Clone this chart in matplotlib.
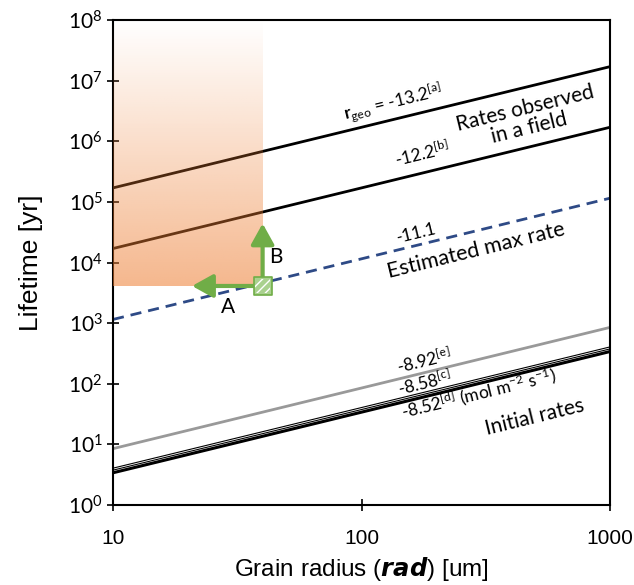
import numpy as np
import matplotlib
matplotlib.use("Agg")
import matplotlib.pyplot as plt

plt.rcParams['font.family'] = ['Lato', 'DejaVu Sans']
plt.rcParams['mathtext.fontset'] = 'custom'
plt.rcParams['mathtext.rm'] = 'Lato'
plt.rcParams['mathtext.it'] = 'Lato:italic'
plt.rcParams['mathtext.bf'] = 'Lato:bold'

# grain radius end points [um] and lifetime [yr] read at those radii
radius = [10, 1000]
life_a = [1.7e5, 1.7e7]    # -13.2
life_b = [1.7e4, 1.7e6]    # -12.2
life_max = [1.15e3, 1.15e5]  # -11.1 (estimated max rate)
life_e = [8.5, 850]        # -8.92
life_c = [3.9, 390]        # -8.58
life_d = [3.4, 340]        # -8.52

# shaded window and arrows
box_x = [10, 40]
box_y = [4.1e3, 1e8]
point = (40, 4.1e3)
arrow_a_end = (20.8, 4.1e3)
arrow_b_end = (40, 4.4e4)

xticks = [10, 100, 1000]
xticklabels = ['10', '100', '1000']
yticks = [10.0 ** k for k in range(9)]

green = '#70AD47'
orange = np.array([237, 125, 49]) / 255

fig = plt.figure(figsize=(6.34, 5.85), dpi=100)
ax = fig.add_axes([113 / 634, 1 - 505 / 585, 497 / 634, 485 / 585])
ax.set_xscale('log')
ax.set_yscale('log')
ax.set_xlim(10, 1000)
ax.set_ylim(1, 1e8)

ax.plot(radius, life_a, color='black', lw=2, zorder=2)
ax.plot(radius, life_b, color='black', lw=2, zorder=2)
ax.plot(radius, life_max, color='#2E4A86', lw=2, ls=(0, (4, 2.5)), zorder=2)
ax.plot(radius, life_e, color='#999999', lw=2, zorder=2)
# double lines for the initial rates
for life in (life_c, life_d):
    ax.plot(radius, life, color='black', lw=2.2, zorder=2)
ax.plot(radius, life_c, color='white', lw=0.6, zorder=2.1)

# orange gradient window, linear in screen space
to_axes = ax.transData + ax.transAxes.inverted()
(x0, y0), (x1, y1) = to_axes.transform([(box_x[0], box_y[0]), (box_x[1], box_y[1])])
n = 256
grad = np.zeros((n, 2, 4))
grad[..., :3] = orange
grad[..., 3] = np.linspace(0.0, 0.55, n)[:, None]
ax.imshow(grad, extent=(x0, x1, y0, y1), transform=ax.transAxes, origin='upper',
          aspect='auto', interpolation='bilinear', zorder=3)

# arrows A and B
arrow_kw = dict(arrowstyle='-|>,head_length=0.9,head_width=0.5', color=green, lw=3,
                shrinkA=0, shrinkB=0, mutation_scale=14)
ax.annotate('', xy=arrow_a_end, xytext=point, arrowprops=arrow_kw, zorder=4)
ax.annotate('', xy=arrow_b_end, xytext=point, arrowprops=arrow_kw, zorder=4)
ax.scatter([point[0]], [point[1]], marker='s', s=150, facecolor='#A9D18E',
           edgecolor=green, lw=1.2, zorder=5)
ax.scatter([point[0]], [point[1]], marker='s', s=110, facecolor='none',
           edgecolor='white', hatch='////', lw=0, zorder=6)
ax.text((228 - 113) / 497, (505 - 307) / 485, 'A', transform=ax.transAxes,
        fontsize=15, ha='center', va='center')
ax.text((276 - 113) / 497, (505 - 257) / 485, 'B', transform=ax.transAxes,
        fontsize=15, ha='center', va='center')

ang = np.degrees(np.arctan((2 * 485 / 8) / 497))


def label(px, py, s, size=12, **kw):
    ax.text((px - 113) / 497, (505 - py) / 485, s, transform=ax.transAxes,
            fontsize=size, rotation=ang, rotation_mode='anchor',
            ha='center', va='center', **kw)


label(393, 103, r'$\mathbf{r}_{\mathrm{geo}}$ = -13.2$^{\mathrm{[a]}}$', 12.5)
label(527, 118, 'Rates observed\nin a field', 15, linespacing=1.0)
label(422, 153, r'-12.2$^{\mathrm{[b]}}$', 12.5)
label(416, 233, '-11.1', 12.5)
label(476, 251, 'Estimated max rate', 15.5)
label(424, 360, r'-8.92$^{\mathrm{[e]}}$', 12.5)
label(425, 382, r'-8.58$^{\mathrm{[c]}}$', 12.5)
label(479, 393, r'-8.52$^{\mathrm{[d]}}$ (mol m$^{\mathrm{-2}}$ s$^{\mathrm{-1}}$)', 12.5)
label(535, 417, 'Initial rates', 15)

ax.set_xticks(xticks)
ax.set_xticklabels(xticklabels, family='Liberation Sans', fontsize=15)
ax.set_yticks(yticks)
ax.minorticks_off()
ax.tick_params(axis='both', direction='inout', length=9, width=1.2)
ax.tick_params(axis='y', labelsize=15, pad=3)
ax.tick_params(axis='x', pad=13)
for sp in ax.spines.values():
    sp.set_linewidth(1.5)

ax.set_xlabel(r'Grain radius ($\boldsymbol{rad}$) [um]', fontsize=17.5,
              family='Liberation Sans', labelpad=5)
ax.set_ylabel('Lifetime [yr]', fontsize=19, family='Liberation Sans', labelpad=18)

fig.savefig('out.png', dpi=100)
